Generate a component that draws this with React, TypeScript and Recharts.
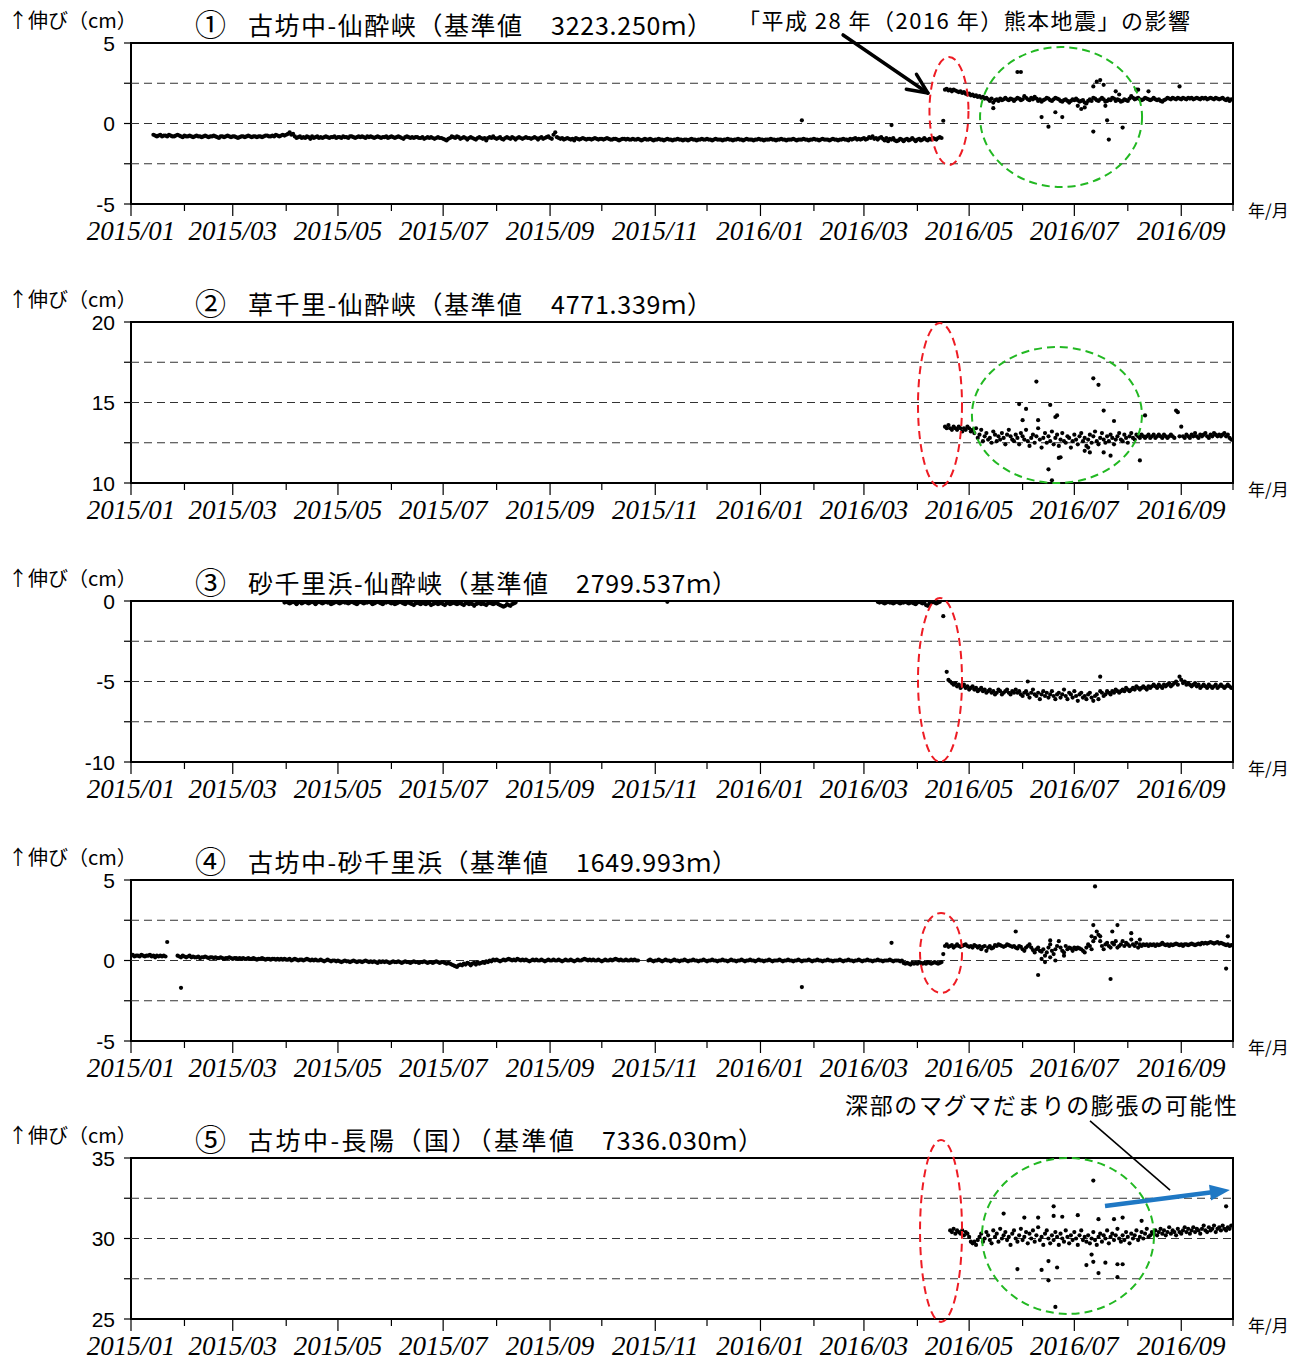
import React from 'react';
import { ScatterChart, Scatter, XAxis, YAxis, ReferenceLine, ReferenceArea, ReferenceDot } from 'recharts';

// ---- axis ----
const monthStarts = [0, 31, 59, 90, 120, 151, 181, 212, 243, 273, 304, 334, 365, 396, 425, 456, 486, 517, 547, 578, 609, 639];
const monthLabels = ['2015/01', '2015/02', '2015/03', '2015/04', '2015/05', '2015/06', '2015/07', '2015/08', '2015/09', '2015/10', '2015/11', '2015/12',
  '2016/01', '2016/02', '2016/03', '2016/04', '2016/05', '2016/06', '2016/07', '2016/08', '2016/09', '2016/10'];

// ---- data (values in mm, x = days since 2015/01/01) ----
// Panel 1: 古坊中-仙酔峡
const p1PreStart = 13;
const p1Pre = [
  -7, -7.5, -8, -7.5, -7, -8, -7.5, -7.5, -8, -7, -7.5, -8, -8, -7.5, -7, -7.5, -8, -8.5, -7.5, -8,
  -8, -7.5, -8, -8.5, -8, -7.5, -8, -8, -8.5, -8, -7.5, -8, -8.5, -8, -8, -7.5, -8, -8.5, -9, -8,
  -8, -8.5, -8, -7.5, -8, -8.5, -8, -8, -8.5, -9, -8.5, -8, -8, -8.5, -8, -7.5, -8, -8.5, -8, -8,
  -8.5, -8, -8, -8.5, -8, -7.5, -7.5, -8, -8, -7.5, -8, -7, -7.5, -8, -7.5, -7, -7.5, -7, -6.5, -5.5,
  -7, -6.5, -8, -9, -8.5, -8, -9, -8.5, -9, -8, -8.5, -9.5, -8, -9, -8.5, -8, -9, -8.5, -9, -8.5,
  -8, -8.5, -9, -8.5, -8.5, -8, -9, -8.5, -8.5, -9, -8, -8.5, -8.5, -9, -8, -8, -8.5, -9, -8.5, -8,
  -8.5, -8, -8.5, -9, -8, -8.5, -8, -8.5, -9, -8.5, -8, -8.5, -9, -8.5, -8.5, -8, -9, -8.5, -8, -8.5,
  -9, -8.5, -8, -8.5, -9, -9.5, -8.5, -8, -8.5, -9, -8.5, -9, -8.5, -8.5, -9, -9, -8.5, -9.5, -9, -8.5,
  -9, -8.5, -9, -9.5, -9, -8.5, -9, -9, -9.5, -10, -10.5, -9.5, -9, -8, -8.5, -9, -8, -8.5, -9.5, -9,
  -8.5, -9, -10, -9, -8.5, -9, -9.5, -10, -9, -8.5, -9, -9.5, -9, -10.5, -9, -8.5, -9, -8, -9, -9.5,
  -9, -8.5, -9.5, -10, -9, -8.5, -9, -9.5, -8.5, -9, -10, -9, -8.5, -9, -9.5, -9, -8.5, -9, -9, -9.5,
  -9, -8.5, -9, -10, -9, -8.5, -9.5, -9, -8.5, -8, -9, -9.5, -7, -5.5, -8.5, -9, -9.5, -9, -10, -9.5,
  -9, -9.5, -10, -9.5, -10.5, -9, -9.5, -10, -9.5, -9, -9.5, -10, -9.5, -9.5, -10, -9.5, -9, -9.5, -10, -9.5,
  -9.5, -10, -9.5, -9, -9.5, -10, -10, -9.5, -9.5, -10, -10.5, -10, -9.5, -9.5, -10, -9.5, -10, -10, -9.5, -10,
  -10, -9.5, -10, -10.5, -10, -9.5, -10, -10, -9.5, -10, -10.5, -10, -10, -9.5, -10, -10, -10.5, -10, -9.5, -10,
  -10, -10.5, -10, -10, -9.5, -10, -10, -10.5, -10, -10, -10.5, -10, -9.5, -10, -10, -10.5, -10, -10, -9.5, -10,
  -10, -9.5, -10, -10, -10.5, -10, -9.5, -10, -10, -10, -10.5, -10, -10, -9.5, -10, -10, -10.5, -10, -10, -9.5,
  -10, -10, -10.5, -10, -9.5, -10, -10, -10, -10.5, -10, -10, -9.5, -10, -10, -10.5, -10, -10, -10, -9.5, -10,
  -10, -10.5, -10, -10, -9.5, -10, -10, -10.5, -10, -10, -10, -9.5, -10, -10.5, -10, -10, -10, -9.5, -10, -10,
  -10.5, -10, -10, -9.5, -10, -10, -10.5, -10, -9.5, -10, -10, -10, -10.5, -10, -9.5, -10, -10, -10.5, -10, -10,
  -9.5, -10, -10, -10.5, -9.5, -10, -9.5, -9, -10, -9.5, -10, -9.5, -9, -10, -9.5, -8.5, -9, -8, -9.5, -9,
  -10, -9, -8.5, -9.5, -10.5, -9, -11, -9.5, -10, -9, -10.5, -11, -10.5, -9.5, -10, -11, -10, -9.5, -10.5, -10,
  -9, -10, -11, -10, -9.5, -10.5, -10, -9, -10, -10.5, -9.5, -10, -9, -9.5, -10, -9, -8.5, -9,
];
const p1PostStart = 472;
const p1Post = [
  21, 21.5, 20.5, 21, 20, 21, 20.5, 20, 19.5, 20, 19, 19.5, 18.5, 18, 18.5, 17.5, 18, 17, 17.5, 16.5,
  17, 16, 16.5, 15.5, 16, 15, 14, 15.5, 13, 14.5, 15, 14, 15.5, 14.5, 15, 16, 15, 14.5, 15.5, 15,
  14, 15, 16, 15.5, 14.5, 15, 17, 16, 15, 14.5, 16, 15, 16.5, 15.5, 14, 15, 13.5, 14.5, 15, 16,
  15.5, 14.5, 14, 15, 16, 15.5, 15, 14, 13.5, 14.5, 15, 14, 13, 14, 15, 14.5, 15.5, 14.5, 13.5, 14,
  14.5, 13, 12.5, 14, 15, 14, 16, 15.5, 14.5, 14, 15, 16, 15, 13.5, 14, 15, 14.5, 16, 15.5, 14,
  15, 14.5, 13.5, 14, 15, 14.5, 14, 15.5, 17, 16, 15, 15.5, 16, 15, 14.5, 15, 16, 15.5, 15, 14.5,
  15, 16, 15, 14.5, 15, 14, 13.5, 14.5, 15, 16, 15.5, 15, 16, 15.5, 15, 16, 15.5, 15, 16, 15.5,
  15, 16, 15.5, 16, 15, 15.5, 16, 15.5, 15, 16, 15.5, 16, 15, 15.5, 16, 15.5, 15, 16, 15.5, 15,
  15.5, 16, 15, 14.5, 15.5, 14, 15,
];
const p1Extra = [
  [389, 2], [441, -1], [471, 1.7], [500, 9.5], [514, 32], [516, 32], [528, 4], [532, -2], [536, 7], [540, 4],
  [549, 11], [551, 9], [553, 10], [558, 23], [560, 26], [562, 27], [564, 24], [558, -5], [565, 11], [566, 2],
  [567, -10], [571, 20], [573, 18], [575, -2.5], [583, 21], [584, 21], [590, 20], [608, 23],
];

// Panel 2: 草千里-仙酔峡
const p2PostStart = 472;
const p2Post = [
  135, 134, 136, 134, 133, 135, 134, 133, 135, 134, 132, 134, 133, 135, 134, 132, 133, 131, 134, 128,
  130, 133, 126, 129, 131, 127, 128, 125, 132, 130, 126, 129, 127, 131, 128, 124, 130, 133, 129, 127,
  126, 130, 128, 124, 131, 129, 127, 133, 126, 123, 128, 130, 125, 129, 134, 127, 122, 128, 131, 125,
  129, 126, 132, 124, 128, 130, 123, 127, 131, 126, 125, 129, 128, 122, 126, 130, 127, 124, 129, 131,
  126, 128, 123, 127, 130, 125, 129, 132, 126, 124, 128, 131, 127, 125, 129, 126, 130, 128, 124, 127,
  129, 131, 127, 126, 130, 128, 125, 129, 131, 128, 127, 130, 129, 128, 130, 129, 128, 129, 130, 128,
  129, 130, 128, 129, 130, 129, 128, 130, 129, 128, 129, 130, 129, 128, 145, 144, 129, 135, 129, 128,
  130, 129, 128, 130, 129, 131, 129, 128, 130, 129, 130, 131, 129, 128, 130, 129, 131, 130, 129, 130,
  129, 130, 131, 129, 130, 128, 127,
];
const p2Extra = [
  [515, 149], [517, 139], [519, 146], [525, 163], [526, 139], [532, 108.5], [533, 148.5], [534, 101.7],
  [536, 141], [537, 142], [538, 115.6], [539, 116], [553, 120], [555, 122], [556, 119], [558, 165],
  [561, 161], [564, 145], [564, 119], [568, 117], [570, 138.5], [585, 114], [588, 142],
];

// Panel 3: 砂千里浜-仙酔峡
const p3PreStart = 89;
const p3Pre = [
  -1, -0.5, -1, -1.5, -1, -0.5, -1, -2, -1, -0.5, -1.5, -1, -0.5, -1, -1.5, -1, -0.5, -1, -2, -1,
  -0.5, -1, -1.5, -1, -0.5, -1, -1, -2, -1.5, -1, -0.5, -1, -1.5, -1, -0.5, -1, -1, -1.5, -1, -0.5,
  -1, -1.5, -2, -1, -0.5, -1, -1.5, -1, -1, -0.5, -1, -2, -1.5, -1, -0.5, -1, -1.5, -2, -1, -1,
  -0.5, -1, -1.5, -1, -2, -1.5, -1, -0.5, -1, -1.5, -2, -1, -1, -1.5, -2, -2.5, -1.5, -1, -1.5, -2,
  -1, -1.5, -2, -1, -1.5, -2.5, -2, -1.5, -1, -2, -1.5, -1, -2, -2.5, -1.5, -1, -2, -1.5, -1, -1.5,
  -2, -1.5, -1, -2, -2.5, -1.5, -1, -2, -1.5, -2, -3, -2, -1.5, -1, -2, -1.5, -2, -2.5, -1.5, -1,
  -1.5, -2, -1.5, -1, -2, -2.5, -3, -3.5, -3, -2, -2.5, -3, -2, -1.5, -1,
];
const p3Pre2Start = 433;
const p3Pre2 = [
  -0.5, -1, -0.5, -1, -1.5, -1, -0.5, -1, -1, -1.5, -1, -0.5, -1, -1.5, -1, -1, -0.5, -1, -1.5, -1,
  -1, -1.5, -2, -1, -0.5, -1, -1.5, -1, -2.5, -3, -1.5, -1, -0.5, -1, -1.5, -1, -0.5,
];
const p3PostStart = 474;
const p3Post = [
  -49, -50, -51, -52, -51, -53, -52, -54, -53, -52, -54, -53, -55, -54, -53, -55, -54, -56, -55, -54,
  -56, -55, -57, -56, -55, -57, -56, -58, -57, -55, -56, -58, -57, -56, -55, -57, -58, -56, -57, -55,
  -57, -56, -58, -59, -57, -56, -58, -60, -57, -55, -58, -59, -57, -61, -58, -56, -59, -57, -60, -58,
  -56, -59, -61, -58, -57, -60, -58, -55, -59, -61, -57, -58, -60, -56, -59, -62, -58, -57, -60, -59,
  -61, -58, -57, -60, -62, -59, -58, -61, -56, -57, -59, -58, -56, -57, -58, -56, -57, -55, -56, -57,
  -56, -55, -56, -54, -55, -56, -55, -54, -55, -53, -54, -55, -54, -53, -54, -55, -53, -54, -53, -52,
  -53, -54, -52, -53, -54, -52, -53, -52, -51, -53, -52, -51, -50, -52, -47, -49, -51, -50, -52, -51,
  -52, -53, -52, -51, -53, -52, -54, -53, -52, -53, -54, -52, -53, -54, -53, -52, -54, -53, -52, -53,
  -54, -53, -52, -53, -54,
];
const p3Extra = [[311, -0.5], [471, -9.4], [473, -44], [520, -50], [562, -47]];

// Panel 4: 古坊中-砂千里浜
const p4PreAStart = 0;
const p4PreA = [3, 3.5, 2.5, 3, 3, 2.5, 3.5, 3, 2.5, 3, 3, 3.5, 2.5, 3, 2, 3, 2.5, 3, 2.5, 3, 2.5];
const p4PreBStart = 27;
const p4PreB = [
  3, 2.5, 2, 3, 2.5, 2, 2.5, 3, 2, 2.5, 2, 2, 2.5, 1.5, 2, 2, 2.5, 2, 1.5, 2,
  2, 1.5, 2, 1.5, 1.5, 2, 1.5, 1, 1.5, 1.5, 2, 1.5, 1, 1.5, 1.5, 1, 1.5, 1, 1.5, 1,
  1, 1.5, 1, 1, 1.5, 1, 0.5, 1, 1, 1.5, 1, 0.5, 1, 1, 0.5, 1, 1, 0.5, 1, 0.5,
  1, 0.5, 1, 0.5, 0.5, 1, 0, 0.5, 1, 0.5, 0, 0.5, 0.5, 0, 0.5, 1, 0.5, 0, 0.5, 0,
  0.5, 0, 0, 0.5, 0, -0.5, 0, 0.5, 0, -0.5, 0, 0, -0.5, 0, -0.5, -1, -0.5, 0, -0.5, -0.5,
  -1, -0.5, 0, -0.5, -1, -0.5, -0.5, -1, -0.5, 0, -0.5, -1, -0.5, -1, -0.5, -1, -1.5, -0.5, -1, -0.5,
  -1, -0.5, -1, -1.5, -1, -0.5, -1, -1, -0.5, -1, -1.5, -1, -0.5, -1, -1, -1.5, -1, -0.5, -1, -1,
  -1.5, -1, -1, -0.5, -1, -1.5, -1, -1, -1.5, -1, -0.5, -1, -1.5, -1, -1, -1.5, -2, -1.5, -2, -2.5,
  -3, -3.5, -4, -3, -2.5, -3, -2, -2.5, -1.5, -2, -3, -2, -1.5, -2.5, -1, -2, -1.5, -1, -1.5, -0.5,
  -1, 0, -0.5, 0.5, 0, 0.5, 0, -0.5, 0, 0.5, 0, 0.5, 1, 0.5, 0, 0.5, 0, 1, 0.5, 0,
  0.5, 0, 0.5, 0, -0.5, 0, 0.5, 0, 0.5, 0, 0, 0.5, 0, -0.5, 0, 0.5, 0, 0, 0.5, 0,
  0, 0.5, 0, -0.5, 0, 0.5, 0, 0, 0.5, 0, -0.5, 0, 0.5, 0, 0, 0.5, 1, 0.5, 0, 0.5,
  0, 0.5, 0, 0, 0.5, 0, -0.5, 0, 0.5, 0, 0, 0.5, 0, 0.5, 1, 0.5, 0, 0.5, 0, 0,
  0.5, 0, 0, 0.5, 0, 0.5, 0, 0,
];
const p4PreCStart = 300;
const p4PreC = [
  0, 0.5, 0, -0.5, 0, 0, 0.5, 0, -0.5, 0, 0.5, 0, 0, -0.5, 0, 0.5, 0, 0, -0.5, 0,
  0, 0.5, 0, -0.5, 0, 0, 0.5, 0, 0, -0.5, 0, 0, 0.5, 0, -0.5, 0, 0, 0.5, 0, 0,
  -0.5, 0, 0, 0.5, 0, 0, -0.5, 0, 0.5, 0, 0, -0.5, 0, 0, 0.5, 0, -0.5, 0, 0, 0.5,
  0, 0, -0.5, 0, 0.5, 0, 0, -0.5, 0, 0, 0.5, 0, -0.5, 0, 0, 0, 0.5, 0, -0.5, 0,
  0, 0.5, 0, 0, -0.5, 0, 0, 0.5, 0, -0.5, 0, 0, 0, 0.5, 0, -0.5, 0, 0, 0.5, 0,
  0, -0.5, 0, 0, 0.5, 0, 0, -0.5, 0, 0, 0, 0.5, 0, -0.5, 0, 0, 0.5, 0, 0, -0.5,
  0, 0, 0.5, 0, -0.5, 0, 0, 0.5, 0, 0, -0.5, 0, 0, 0.5, 0, 0, -0.5, 0, 0, 0,
  0.5, 0, -0.5, 0, 0, 0, -0.5, 0, -1.5, -2, -1.5, -2, -2.5, -1.5, -2, -1.5, -2, -1, -1.5, -2,
  -1.5, -2, -1, -1.5, -2, -1.5, -1, -1.5, -2, -1.5, -1,
];
const p4PostStart = 472;
const p4Post = [
  9, 10, 8.5, 9, 9.5, 8, 9, 10, 9, 8.5, 9, 9.5, 10, 9, 8.5, 9, 8, 9.5, 9, 8,
  9, 7, 8.5, 9, 6, 8, 9, 7.5, 8, 9.5, 9, 10, 9.5, 9, 8.5, 9, 10, 9.5, 9, 8.5,
  9, 8, 7.5, 9, 8.5, 7, 6, 8, 9, 10, 8, 6.5, 5, 7, 8, 6, 5.5, 7, 3, 5,
  8, 10, 6, 4, 7, 9, 12, 8, 6, 5, 9, 7, 8, 7.5, 6, 8, 7, 8, 7.5, 7,
  6, 5, 8, 10, 9, 7, 12, 14, 18, 16, 12, 9, 7, 10, 11, 9, 8, 11, 10, 12,
  8, 9, 10, 12, 9, 11, 10, 9, 13, 10, 9, 11, 8, 10, 9, 10, 9.5, 10, 9, 10,
  9.5, 10, 9, 10, 9.5, 10, 11, 10, 9.5, 10, 9, 10, 9.5, 10, 10.5, 10, 9.5, 10, 9, 10,
  10, 9.5, 10, 10.5, 10, 9.5, 10, 10.5, 10, 11, 10.5, 11, 10.5, 11, 11.5, 11, 10.5, 11, 11.5, 10.5,
  11, 10.5, 10, 9.5, 10, 9, 9.5,
];
const p4Extra = [
  [21, 11.5], [29, -17], [389, -16.5], [441, 11], [471, 4], [513, 18], [526, -9], [528, 1], [530, -1],
  [533, 12.5], [533, 2], [536, 0], [541, 3], [557, 15], [558, 22], [559, 46], [562, 15], [568, -11.5],
  [569, 18], [572, 22], [580, 17], [585, 13], [635, -5], [636, 15],
];

// Panel 5: 古坊中-長陽（国）
const p5PostStart = 475;
const p5Post = [
  305, 304, 306, 303, 305, 304, 303, 305, 302, 304, 303, 301, 298, 297, 298, 296, 299, 301, 303, 298,
  300, 304, 302, 299, 297, 305, 301, 303, 298, 306, 300, 302, 304, 299, 301, 296, 303, 305, 300, 298,
  302, 306, 299, 301, 304, 297, 303, 300, 305, 298, 302, 307, 299, 301, 296, 303, 305, 300, 297, 302,
  299, 304, 301, 296, 303, 300, 298, 305, 301, 297, 302, 299, 304, 300, 296, 302, 305, 299, 301, 298,
  302, 297, 300, 304, 299, 296, 301, 303, 298, 302, 300, 305, 297, 301, 303, 299, 302, 306, 300, 298,
  302, 299, 304, 301, 297, 303, 300, 302, 305, 299, 301, 304, 300, 303, 306, 301, 302, 304, 303, 305,
  302, 304, 306, 303, 305, 302, 304, 307, 303, 305, 304, 302, 306, 304, 303, 305, 307, 304, 306, 303,
  305, 307, 304, 306, 305, 303, 306, 308, 305, 304, 307, 305, 306, 308, 304, 306, 307, 305, 308, 306,
  305, 307, 306, 308,
];
const p5Extra = [
  [506, 315.5], [514, 281], [518, 313], [526, 313], [528, 280.5], [532, 286], [532, 274], [535, 320],
  [535, 314], [536, 257.5], [537, 282], [540, 313.5], [549, 314.5], [554, 283.5], [557, 290], [558, 336],
  [558, 285.5], [561, 312], [561, 278.5], [565, 285], [570, 312], [572, 276], [572, 284], [575, 313],
  [575, 284], [586, 311], [635, 320],
];

// ---- helpers ----
type Pt = { x: number; y: number };
const seq = (start: number, vals: number[]): Pt[] => vals.map((v, i) => ({ x: start + i, y: v }));
const pairs = (list: number[][]): Pt[] => list.map(([x, y]) => ({ x, y }));

const RED = '#ee1c24';
const GREEN = '#22b822';
const BLUE = '#1f78c4';
const JP = "'Noto Sans CJK JP', 'Noto Sans', sans-serif";

type Ell = { x: number; y: number; rx: number; ry: number; color: string };
type Arr = { from: [number, number]; to: [number, number]; kind: 'openBlack' | 'blue' | 'thin' };

const panels = [
  {
    top: 0, yMin: -50, yMax: 50, num: '①', name: '古坊中-仙酔峡（基準値', nameEnd: 522, val: '3223.250ｍ）', valStart: 551, valEnd: 712,
    data: [...seq(p1PreStart, p1Pre), ...seq(p1PostStart, p1Post), ...pairs(p1Extra)],
    ellipses: [{ x: 474.3, y: 7.8, rx: 19.5, ry: 54, color: RED }, { x: 539.3, y: 4, rx: 81, ry: 70, color: GREEN }] as Ell[],
    arrows: [{ from: [412.9, 55], to: [462.1, 18.9], kind: 'openBlack' }] as Arr[],
  },
  {
    top: 279, yMin: 100, yMax: 200, num: '②', name: '草千里-仙酔峡（基準値', nameEnd: 522, val: '4771.339ｍ）', valStart: 551, valEnd: 712,
    data: [...seq(p2PostStart, p2Post), ...pairs(p2Extra)],
    ellipses: [{ x: 469.1, y: 148.4, rx: 22, ry: 82, color: RED }, { x: 536.9, y: 142.2, rx: 85, ry: 68, color: GREEN }] as Ell[],
    arrows: [] as Arr[],
  },
  {
    top: 558, yMin: -100, yMax: 0, num: '③', name: '砂千里浜-仙酔峡（基準値', nameEnd: 548, val: '2799.537ｍ）', valStart: 576, valEnd: 737,
    data: [...seq(p3PreStart, p3Pre), ...seq(p3Pre2Start, p3Pre2), ...seq(p3PostStart, p3Post), ...pairs(p3Extra)],
    ellipses: [{ x: 469.1, y: -49, rx: 22, ry: 82, color: RED }] as Ell[],
    arrows: [] as Arr[],
  },
  {
    top: 837, yMin: -50, yMax: 50, num: '④', name: '古坊中-砂千里浜（基準値', nameEnd: 548, val: '1649.993ｍ）', valStart: 576, valEnd: 737,
    data: [...seq(p4PreAStart, p4PreA), ...seq(p4PreBStart, p4PreB), ...seq(p4PreCStart, p4PreC), ...seq(p4PostStart, p4Post), ...pairs(p4Extra)],
    ellipses: [{ x: 469.7, y: 4.7, rx: 21, ry: 40, color: RED }] as Ell[],
    arrows: [] as Arr[],
  },
  {
    top: 1115, yMin: 250, yMax: 350, num: '⑤', name: '古坊中-長陽（国）（基準値', nameEnd: 574, val: '7336.030ｍ）', valStart: 602, valEnd: 763,
    data: [...seq(p5PostStart, p5Post), ...pairs(p5Extra)],
    ellipses: [{ x: 469.7, y: 304.7, rx: 21, ry: 91, color: RED }, { x: 543.3, y: 301.6, rx: 86, ry: 78, color: GREEN }] as Ell[],
    arrows: [{ from: [564.8, 320.2], to: [637.2, 330.1], kind: 'blue' }, { from: [556.1, 373], to: [602.5, 330], kind: 'thin' }] as Arr[],
  },
];

const W = 1305;
const H = 279;

const XTick = (props: any) => {
  const { x, y, payload } = props;
  const idx = monthStarts.indexOf(payload.value);
  const major = idx % 2 === 0;
  return (
    <g>
      <line x1={x} y1={y} x2={x} y2={y + (major ? 12 : 7)} stroke="#000" strokeWidth={1.2} />
      {major && (
        <text x={x} y={y + 36} textAnchor="middle" fontFamily="'Liberation Serif', 'DejaVu Serif', serif" fontStyle="italic" fontSize={27} fill="#000">
          {monthLabels[idx]}
        </text>
      )}
    </g>
  );
};

const makeYTick = (yMin: number, yMax: number) => (props: any) => {
  const { x, y, payload } = props;
  const v = payload.value;
  const labeled = v === yMin || v === yMax || v === (yMin + yMax) / 2;
  return (
    <g>
      <line x1={x - 7} y1={y} x2={x} y2={y} stroke="#000" strokeWidth={1.2} />
      {labeled && (
        <text x={x - 16} y={y + 7.5} textAnchor="end" fontFamily="'Liberation Sans', Arial, sans-serif" fontSize={21} fill="#000">
          {String(v / 10)}
        </text>
      )}
    </g>
  );
};

const dot = (p: any) => <circle cx={p.cx} cy={p.cy} r={2.1} fill="#000" />;

const ellipseShape = (e: Ell) => (p: any) => (
  <ellipse cx={p.cx} cy={p.cy} rx={e.rx} ry={e.ry} fill="none" stroke={e.color} strokeWidth={2} strokeDasharray="8 5" />
);

const arrowShape = (kind: Arr['kind']) => (p: any) => {
  const { x1, y1, x2, y2 } = p;
  const dx = x2 - x1;
  const dy = y2 - y1;
  const L = Math.hypot(dx, dy) || 1;
  const ux = dx / L;
  const uy = dy / L;
  const px = -uy;
  const py = ux;
  if (kind === 'thin') {
    return <line x1={x1} y1={y1} x2={x2} y2={y2} stroke="#000" strokeWidth={1.6} />;
  }
  if (kind === 'blue') {
    const head = 20;
    const hw = 16;
    const bx = x2 - ux * head;
    const by = y2 - uy * head;
    return (
      <g>
        <line x1={x1} y1={y1} x2={bx + ux * 2} y2={by + uy * 2} stroke={BLUE} strokeWidth={4.5} />
        <polygon points={`${x2},${y2} ${bx + (px * hw) / 2},${by + (py * hw) / 2} ${bx - (px * hw) / 2},${by - (py * hw) / 2}`} fill={BLUE} />
      </g>
    );
  }
  const head = 20;
  const hw = 18;
  const bx = x2 - ux * head;
  const by = y2 - uy * head;
  return (
    <g stroke="#000" strokeWidth={3.5} strokeLinecap="round" fill="none">
      <line x1={x1} y1={y1} x2={x2 - ux * 2} y2={y2 - uy * 2} />
      <line x1={x2} y1={y2} x2={bx + (px * hw) / 2} y2={by + (py * hw) / 2} />
      <line x1={x2} y1={y2} x2={bx - (px * hw) / 2} y2={by - (py * hw) / 2} />
    </g>
  );
};

const Panel = ({ cfg }: { cfg: (typeof panels)[number] }) => {
  const { yMin, yMax } = cfg;
  const step = (yMax - yMin) / 4;
  const yTicks = [yMin, yMin + step, yMin + 2 * step, yMin + 3 * step, yMax];
  const grid = [yMin + step, yMin + 2 * step, yMin + 3 * step];
  return (
    <div style={{ position: 'absolute', left: 0, top: cfg.top, width: W, height: H }}>
      <ScatterChart width={W} height={H} margin={{ top: 43, right: 72, bottom: 0, left: 0 }}>
        <XAxis
          type="number"
          dataKey="x"
          domain={[0, 639]}
          ticks={monthStarts}
          interval={0}
          allowDataOverflow
          axisLine={false}
          tickLine={false}
          tickSize={0}
          tickMargin={0}
          height={75}
          tick={XTick}
        />
        <YAxis
          type="number"
          dataKey="y"
          domain={[yMin, yMax]}
          ticks={yTicks}
          interval={0}
          allowDataOverflow
          axisLine={false}
          tickLine={false}
          tickSize={0}
          tickMargin={0}
          width={131}
          tick={makeYTick(yMin, yMax)}
        />
        {grid.map((g) => (
          <ReferenceLine key={g} y={g} stroke="#333" strokeWidth={1} strokeDasharray="8 5" />
        ))}
        <Scatter data={cfg.data} isAnimationActive={false} shape={dot} />
        <ReferenceArea x1={0} x2={639} y1={yMin} y2={yMax} fill="none" stroke="#000" strokeWidth={2} ifOverflow="visible" />
        {cfg.ellipses.map((e, i) => (
          <ReferenceDot key={'e' + i} x={e.x} y={e.y} ifOverflow="visible" shape={ellipseShape(e)} />
        ))}
        {cfg.arrows.map((a, i) => (
          <ReferenceLine
            key={'a' + i}
            segment={[{ x: a.from[0], y: a.from[1] }, { x: a.to[0], y: a.to[1] }]}
            ifOverflow="visible"
            shape={arrowShape(a.kind)}
          />
        ))}
      </ScatterChart>
    </div>
  );
};

export default function App() {
  return (
    <div style={{ position: 'absolute', left: 0, top: 0, width: W, height: 1360, background: '#fff', overflow: 'hidden' }}>
      {panels.map((p, i) => (
        <Panel key={i} cfg={p} />
      ))}
      <svg width={W} height={1360} style={{ position: 'absolute', left: 0, top: 0, pointerEvents: 'none' }}>
        {panels.map((p, i) => (
          <g key={i} fontFamily={JP} fill="#000">
            <text x={8} y={p.top + 28} fontSize={20}>↑伸び（cm）</text>
            <text x={195} y={p.top + 36} fontSize={31}>{p.num}</text>
            <text x={248} y={p.top + 35} fontSize={25} textLength={p.nameEnd - 248}>{p.name}</text>
            <text x={p.valStart} y={p.top + 35} fontSize={25} textLength={p.valEnd - p.valStart}>{p.val}</text>
            <text x={1248} y={p.top + 217} fontSize={17}>年/月</text>
          </g>
        ))}
        <text x={738} y={29} fontFamily={JP} fontSize={22} textLength={452}>「平成 28 年（2016 年）熊本地震」の影響</text>
        <text x={845} y={1114} fontFamily={JP} fontSize={23} textLength={392}>深部のマグマだまりの膨張の可能性</text>
      </svg>
    </div>
  );
}
